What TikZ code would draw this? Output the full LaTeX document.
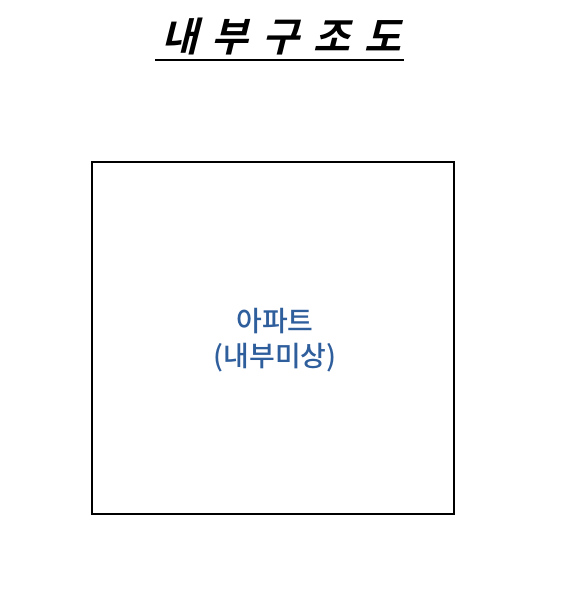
\documentclass[tikz,border=0pt]{standalone}
\usepackage{fontspec}
\newfontfamily\krfont{Noto Sans CJK KR Medium}
\newfontfamily\krbold[FakeSlant=0.25]{Noto Sans CJK KR Bold}
\definecolor{labelblue}{HTML}{2F5E9C}
\begin{document}
\begin{tikzpicture}[x=1pt,y=-1pt,
  titletext/.style={font=\krbold\fontsize{40}{48}\selectfont, inner sep=0pt, anchor=base},
  boxstyle/.style={draw, line width=1.8pt},
  labeltext/.style={font=\krfont\fontsize{28}{35}\selectfont, text=labelblue, align=center, inner sep=0pt}]
\useasboundingbox (0,0) rectangle (570,600);
\node[titletext] (title) at (281,51) {내\hspace{14pt}부\hspace{14pt}구\hspace{14pt}조\hspace{14pt}도};
\coordinate (ulL) at (155,60);
\coordinate (ulR) at (404,60);
\draw[line width=1.8pt] (ulL) -- (ulR);
\node[boxstyle, minimum width=362pt, minimum height=352pt, inner sep=0pt] (apt) at (273,338) {};
\node[labeltext] (lbl) at (275,340) {아파트\\(내부미상)};
\end{tikzpicture}
\end{document}
